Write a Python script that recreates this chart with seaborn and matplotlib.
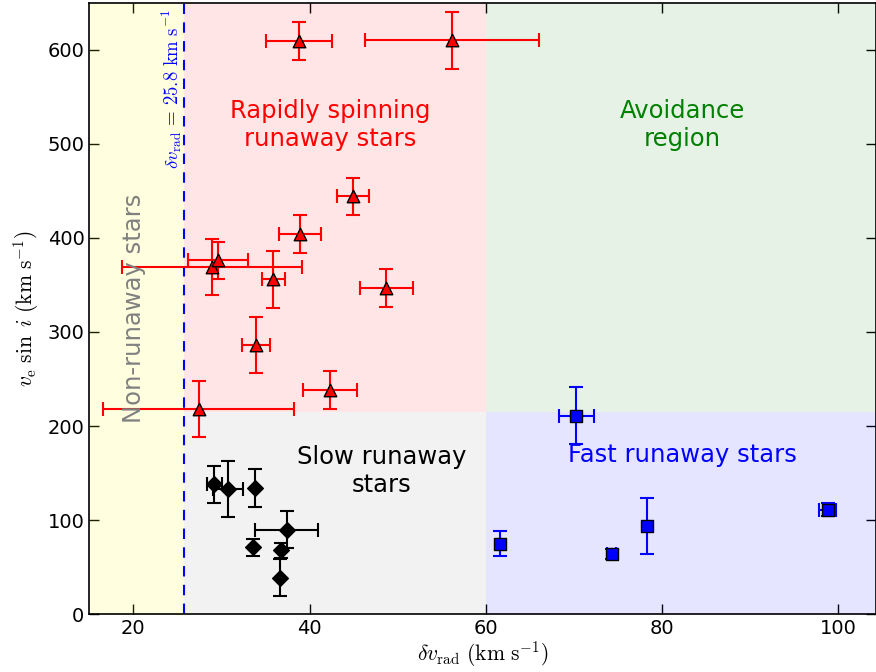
import matplotlib
matplotlib.use("Agg")
import matplotlib.pyplot as plt
import seaborn as sns
import pandas as pd

# Rapidly spinning runaway stars (red triangles)
rap_x = [38.8, 56.2, 44.9, 38.9, 28.9, 29.6, 35.9, 48.7, 33.9, 42.3, 27.4]
rap_y = [609, 610, 444, 404, 369, 376, 356, 347, 286, 238, 218]
rap_xerr = [3.8, 9.9, 1.8, 2.4, 10.2, 3.4, 1.3, 3.0, 1.6, 3.1, 10.8]
rap_yerr = [20, 30, 20, 20, 30, 20, 30, 20, 30, 20, 30]

# Slow runaway stars (black diamonds)
slow_x = [29.2, 30.7, 33.8, 37.4, 33.6, 36.8, 36.6]
slow_y = [138, 133, 134, 90, 71, 68, 39]
slow_xerr = [0.9, 1.7, 0.0, 3.6, 0.0, 0.0, 0.0]
slow_yerr = [20, 30, 20, 20, 9, 8, 20]

# Fast runaway stars (blue squares)
fast_x = [70.3, 61.6, 74.3, 78.3, 98.8]
fast_y = [211, 75, 64, 94, 111]
fast_xerr = [2.0, 0.0, 0.5, 0.0, 1.0]
fast_yerr = [30, 13, 5, 30, 7]

dv_cut = 25.8
vsini_cut = 215

sns.set_style("ticks", {"axes.edgecolor": "black", "xtick.color": "black",
                        "ytick.color": "black", "text.color": "black",
                        "axes.labelcolor": "black"})
plt.rcParams["mathtext.fontset"] = "cm"
plt.rcParams["xtick.direction"] = "in"
plt.rcParams["ytick.direction"] = "in"

fig = plt.figure(figsize=(8.76, 6.72), dpi=100)
ax = fig.add_axes([0.102, 0.086, 0.898, 0.91])

xmin, xmax = 15, 104.3
ymin, ymax = 0, 650

# shaded regions
ax.axvspan(xmin, dv_cut, color="yellow", alpha=0.12, lw=0)
ax.fill_between([dv_cut, 60], vsini_cut, ymax, color="red", alpha=0.1, lw=0)
ax.fill_between([60, xmax], vsini_cut, ymax, color="green", alpha=0.1, lw=0)
ax.fill_between([dv_cut, 60], ymin, vsini_cut, color="gray", alpha=0.1, lw=0)
ax.fill_between([60, xmax], ymin, vsini_cut, color="blue", alpha=0.1, lw=0)

ax.axvline(dv_cut, color="blue", ls="--", lw=1.5, dashes=(5, 4))

groups = [
    (rap_x, rap_y, rap_xerr, rap_yerr, "red", "^", 9),
    (slow_x, slow_y, slow_xerr, slow_yerr, "black", "D", 8),
    (fast_x, fast_y, fast_xerr, fast_yerr, "blue", "s", 8),
]
for gx, gy, gxe, gye, col, mk, ms in groups:
    ax.errorbar(gx, gy, xerr=gxe, yerr=gye, fmt="none", ecolor=col,
                elinewidth=1.5, capsize=5, capthick=1.5, zorder=3)
    df = pd.DataFrame({"x": gx, "y": gy})
    sns.scatterplot(data=df, x="x", y="y", marker=mk, color=col,
                    edgecolor="black", linewidth=1, s=ms ** 2, ax=ax, zorder=4)

fs = 17.5
ax.text(42.3, 520, "Rapidly spinning\nrunaway stars", color="red", fontsize=fs,
        ha="center", va="center", linespacing=1.2)
ax.text(82.3, 520, "Avoidance\nregion", color="green", fontsize=fs,
        ha="center", va="center", linespacing=1.2)
ax.text(48.2, 152, "Slow runaway\nstars", color="black", fontsize=fs,
        ha="center", va="center", linespacing=1.2)
ax.text(82.3, 169, "Fast runaway stars", color="blue", fontsize=fs,
        ha="center", va="center")
ax.text(20.1, 325, "Non-runaway stars", color="gray", fontsize=fs,
        ha="center", va="center", rotation=90)
ax.text(24.4, 558, r"$\delta v_{\rm rad}\,=\,25.8\ {\rm km\ s^{-1}}$",
        color="blue", fontsize=13.5, ha="center", va="center", rotation=90)

ax.set_xlim(xmin, xmax)
ax.set_ylim(ymin, ymax)
ax.set_xticks([20, 40, 60, 80, 100])
ax.set_yticks(range(0, 700, 100))
ax.tick_params(labelsize=14, top=True, right=True, length=7, width=1)
ax.set_xlabel(r"$\delta v_{\rm rad}\ ({\rm km\ s^{-1}})$", fontsize=15.5, labelpad=1)
ax.set_ylabel(r"$v_{\rm e}\ \sin\ i\ ({\rm km\ s^{-1}})$", fontsize=15.5, labelpad=5)
for sp in ax.spines.values():
    sp.set_linewidth(1.2)

fig.savefig("out.png", dpi=100)
